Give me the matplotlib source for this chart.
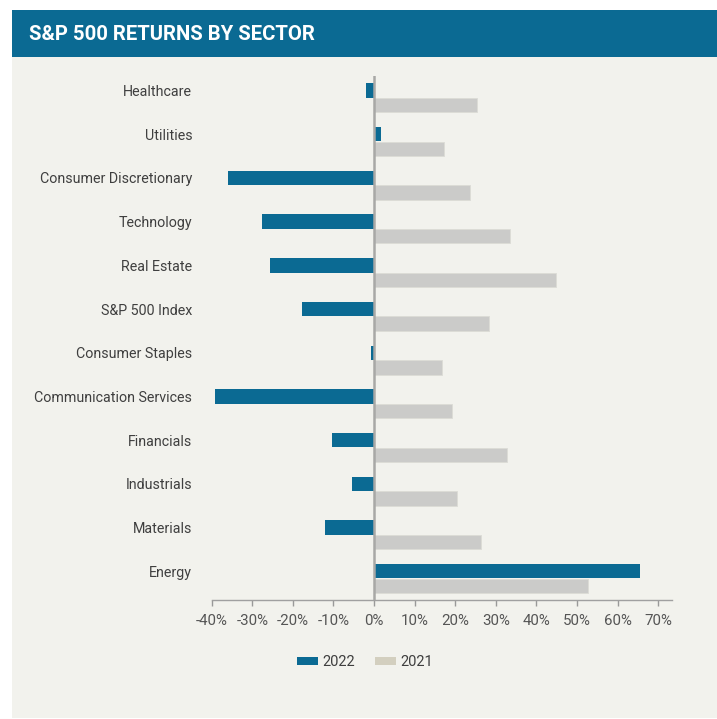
import matplotlib

matplotlib.use("Agg")

import matplotlib.pyplot as plt
import numpy as np
from matplotlib.patches import Patch, Rectangle

BLUE = "#0b6a93"
GREY_BAR = "#cbcbc9"
LEGEND_2021 = "#d3cfbf"
PANEL = "#f2f2ed"
TEXT = "#3f3f3f"
AXIS = "#a8a8a6"

sectors = ["Healthcare", "Utilities", "Consumer Discretionary", "Technology",
           "Real Estate", "S&P 500 Index", "Consumer Staples",
           "Communication Services", "Financials", "Industrials", "Materials",
           "Energy"]
ret_2022 = [-2.0, 1.6, -36.0, -27.6, -25.6, -17.7, -0.7, -39.2, -10.3, -5.4, -12.0, 65.4]
ret_2021 = [25.3, 17.2, 23.6, 33.4, 44.8, 28.3, 16.7, 19.3, 32.8, 20.4, 26.4, 52.6]
xticks = [-40, -30, -20, -10, 0, 10, 20, 30, 40, 50, 60, 70]

plt.rcParams["font.family"] = ["Roboto", "DejaVu Sans"]

W, H = 717, 719
fig = plt.figure(figsize=(W / 100, H / 100), dpi=100, facecolor="white")

# light panel + blue header band (kept behind the axes)
fig.patches.append(Rectangle((12 / W, 1 - 718 / H), 705 / W, 708 / H,
                             transform=fig.transFigure, facecolor=PANEL,
                             edgecolor="none", zorder=-2))
fig.patches.append(Rectangle((12 / W, 1 - 57 / H), 705 / W, 47 / H,
                             transform=fig.transFigure, facecolor=BLUE,
                             edgecolor="none", zorder=-1))
fig.text(29 / W, 1 - 34 / H, "S&P 500 RETURNS BY SECTOR", color="white",
         fontsize=14.6, fontweight="bold", va="center", ha="left")

ax = fig.add_axes([211.7 / W, 1 - 600 / H, (672 - 211.7) / W, (600 - 75.7) / H])
ax.set_facecolor("none")
ax.set_zorder(2)

y = np.arange(len(sectors))
off = 0.167
h = 0.33
ax.barh(y - off, ret_2022, height=h, color=BLUE, edgecolor="none", zorder=2)
ax.barh(y + off, ret_2021, height=h, color=GREY_BAR, edgecolor="#dcdcd6",
        linewidth=0.6, zorder=2)

ax.axvline(0, color=AXIS, lw=1.8, zorder=3)
ax.set_xlim(-40, 73.4)
ax.set_ylim(11.49, -0.506)

ax.set_yticks(y - off)
ax.set_yticklabels(sectors, fontsize=10.3, color=TEXT)
ax.tick_params(axis="y", length=0, pad=14)

ax.set_xticks(xticks)
ax.set_xticklabels([f"{t}%" for t in xticks], fontsize=10.8, color="#555555")
ax.tick_params(axis="x", length=4, color="#999999", width=1, pad=6)

for side in ("top", "right", "left"):
    ax.spines[side].set_visible(False)
ax.spines["bottom"].set_color("#a0a0a0")
ax.spines["bottom"].set_linewidth(1)

handles = [Patch(facecolor=BLUE, edgecolor="none", label="2022"),
           Patch(facecolor=LEGEND_2021, edgecolor="none", label="2021")]
fig.legend(handles=handles, loc="center", bbox_to_anchor=(365 / W, 1 - 662 / H),
           ncol=2, frameon=False, fontsize=10.5, handlelength=1.4,
           handleheight=0.45, handletextpad=0.3, columnspacing=1.4,
           labelcolor=TEXT)

fig.savefig("out.png", dpi=100, facecolor="white")
